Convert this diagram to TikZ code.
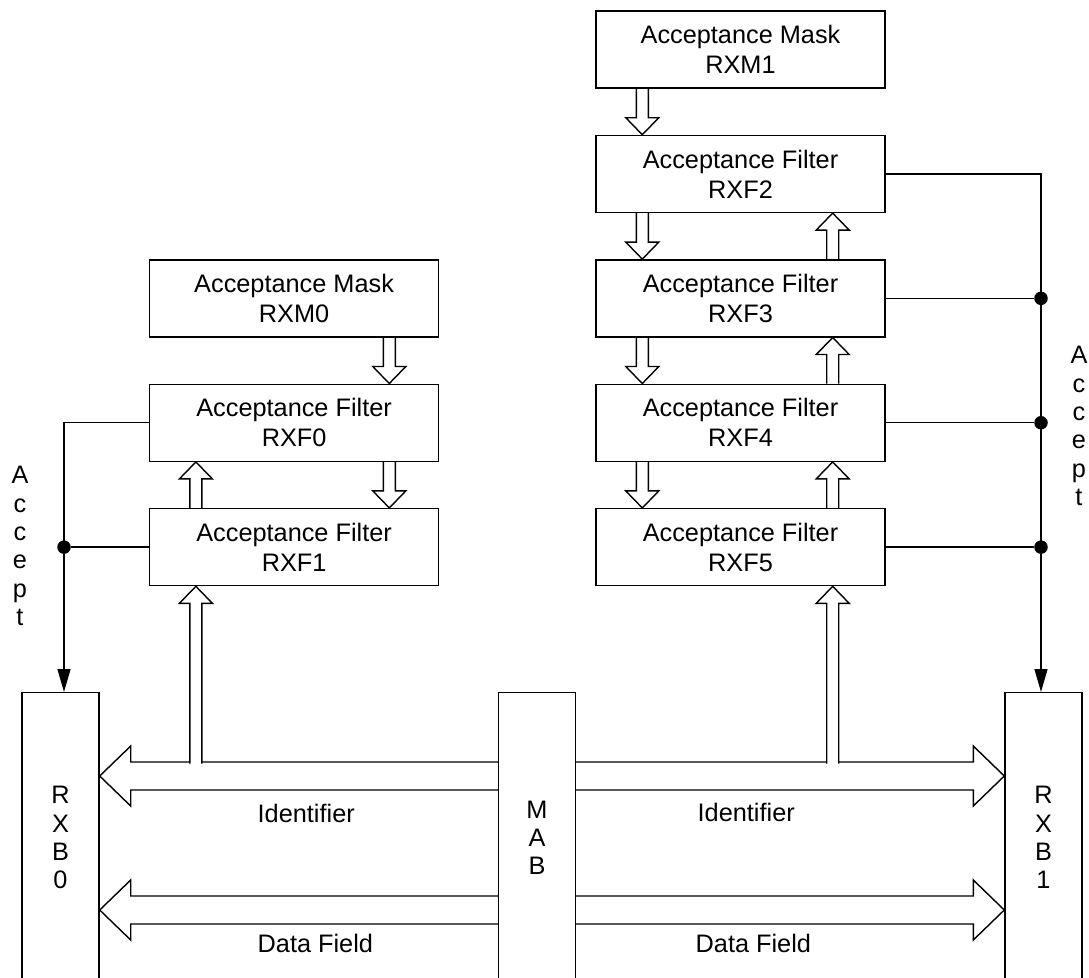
\documentclass[tikz,border=0pt]{standalone}
\usepackage{fontspec}
\setmainfont{Liberation Sans}
\usetikzlibrary{arrows.meta,positioning,calc}

\tikzset{
  shaft/.store in=\shafthw, headw/.store in=\headhw, headl/.store in=\headlen,
  shaft=0.12cm, headw=0.33cm, headl=0.34cm,
  hollow/.style={to path={
    let \p1=(\tikztostart), \p2=(\tikztotarget),
        \p3=($(\p2)!\headlen!(\p1)$),
        \p4=($(\p1)!\shafthw!90:(\p2)$), \p5=($(\p3)!\shafthw!-90:(\p1)$),
        \p6=($(\p3)!\headhw!-90:(\p1)$), \p7=($(\p3)!\headhw!90:(\p1)$),
        \p8=($(\p3)!\shafthw!90:(\p1)$), \p9=($(\p1)!\shafthw!-90:(\p2)$)
    in (\p4) -- (\p5) -- (\p6) -- (\p2) -- (\p7) -- (\p8) -- (\p9)}}
}

\begin{document}
\begin{tikzpicture}[
  line width=0.8pt,
  font=\fontsize{14.4}{17}\selectfont,
  node distance=0.92cm and 3.12cm,
  box/.style={draw,minimum width=5.78cm,minimum height=1.54cm,align=center,inner sep=0pt},
  buf/.style={draw,minimum width=1.54cm,minimum height=5.8cm,align=center,inner sep=0pt,font=\fontsize{14.4}{16.1}\selectfont},
  vtxt/.style={align=center,inner sep=0pt,font=\fontsize{14.4}{16.1}\selectfont},
  lbl/.style={anchor=west,inner sep=0pt},
  dot/.style={circle,fill,inner sep=0pt,minimum size=0.27cm},
  acc/.style={-{Triangle[length=0.46cm,width=0.26cm]}},
  bus/.style={hollow,shaft=0.28cm,headw=0.6cm,headl=0.62cm}
]
  \useasboundingbox (0,0) rectangle (21.78,-19.56);
  \clip (0,0) rectangle (21.78,-19.56);

  \node[box] (RXM1) at (14.81,-0.99) {Acceptance Mask\\RXM1};
  \node[box,below=of RXM1] (RXF2) {Acceptance Filter\\RXF2};
  \node[box,below=of RXF2] (RXF3) {Acceptance Filter\\RXF3};
  \node[box,below=of RXF3] (RXF4) {Acceptance Filter\\RXF4};
  \node[box,below=of RXF4] (RXF5) {Acceptance Filter\\RXF5};
  \node[box,left=of RXF3] (RXM0) {Acceptance Mask\\RXM0};
  \node[box,left=of RXF4] (RXF0) {Acceptance Filter\\RXF0};
  \node[box,left=of RXF5] (RXF1) {Acceptance Filter\\RXF1};

  \node[buf,anchor=north] (RXB0) at (1.21,-13.84) {R\\X\\B\\0};
  \node[buf,anchor=north] (MAB) at (10.74,-13.84) {M\\A\\B};
  \node[buf,anchor=north] (RXB1) at (20.87,-13.84) {R\\X\\B\\1};

  \coordinate (idtop) at ([yshift=-1.43cm]MAB.north);
  \coordinate (upL) at ([xshift=0.94cm]RXF1.south west);
  \coordinate (upR) at ([xshift=-1.06cm]RXF5.south east);
  \coordinate (accL) at ([xshift=0.07cm]RXB0.north);
  \coordinate (accR) at ([xshift=-0.05cm]RXB1.north);

  \draw[hollow] ([xshift=-1cm]RXM0.south east) to ([xshift=-1cm]RXF0.north east);
  \draw[hollow] ([xshift=-1cm]RXF0.south east) to ([xshift=-1cm]RXF1.north east);
  \draw[hollow] ([xshift=0.94cm]RXF1.north west) to ([xshift=0.94cm]RXF0.south west);
  \foreach \a/\b in {RXM1/RXF2,RXF2/RXF3,RXF3/RXF4,RXF4/RXF5}
    \draw[hollow] ([xshift=0.94cm]\a.south west) to ([xshift=0.94cm]\b.north west);
  \foreach \a/\b in {RXF3/RXF2,RXF4/RXF3,RXF5/RXF4}
    \draw[hollow] ([xshift=-1.06cm]\a.north east) to ([xshift=-1.06cm]\b.south east);

  \draw[bus] ([yshift=-1.68cm]MAB.north west) to ([yshift=-1.68cm]RXB0.north east);
  \draw[bus] ([yshift=-4.36cm]MAB.north west) to ([yshift=-4.36cm]RXB0.north east);
  \draw[bus] ([yshift=-1.68cm]MAB.north east) to ([yshift=-1.68cm]RXB1.north west);
  \draw[bus] ([yshift=-4.36cm]MAB.north east) to ([yshift=-4.36cm]RXB1.north west);

  \draw[hollow,fill=white] (upL |- idtop) to (upL);
  \draw[hollow,fill=white] (upR |- idtop) to (upR);

  \draw[acc] (RXF0.west) -| (accL);
  \node[dot] (jL) at (RXF1.west -| accL) {};
  \draw (RXF1.west) -- (jL);
  \draw[acc] (RXF2.east) -| (accR);
  \foreach \n/\j in {RXF3/jR3,RXF4/jR4,RXF5/jR5} {
    \node[dot] (\j) at (\n.east -| accR) {};
    \draw (\n.east) -- (\j);
  }

  \node[vtxt] (accLtxt) at (0.4,-10.92) {A\\c\\c\\e\\p\\t};
  \node[vtxt] (accRtxt) at (21.58,-8.52) {A\\c\\c\\e\\p\\t};
  \node[lbl] (idL) at (5.14,-16.26) {Identifier};
  \node[lbl] (dfL) at (5.14,-18.86) {Data Field};
  \node[lbl] (idR) at (13.94,-16.24) {Identifier};
  \node[lbl] (dfR) at (13.9,-18.86) {Data Field};
\end{tikzpicture}
\end{document}
